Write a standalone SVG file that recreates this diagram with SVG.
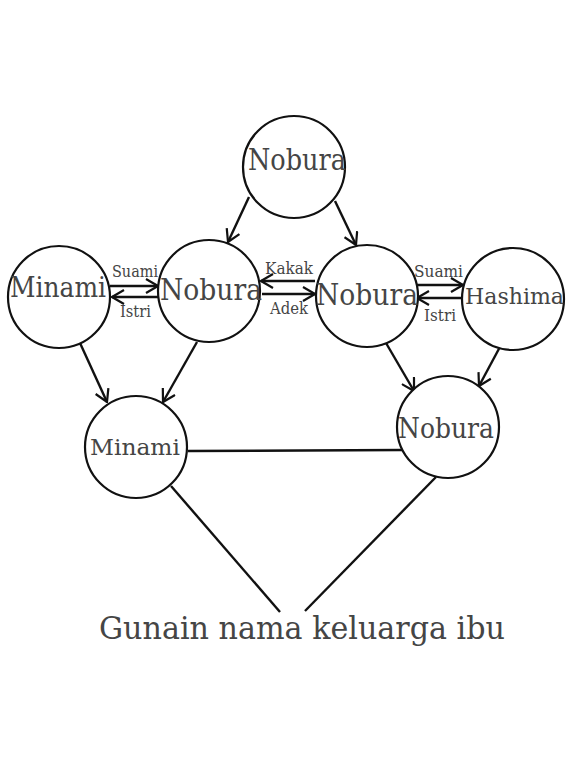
<svg xmlns="http://www.w3.org/2000/svg" width="574" height="765" viewBox="0 0 574 765">
<style>
.n{fill:#fff;stroke:#111;stroke-width:2.2}
.t{font-family:"DejaVu Serif","Liberation Serif",serif;fill:#454545}
.e{stroke:#111;stroke-width:2.4;fill:none}
.a{marker-end:url(#ah)}
</style>
<defs>
<marker id="ah" viewBox="0 0 14 16" refX="13" refY="8" markerWidth="14" markerHeight="16" markerUnits="userSpaceOnUse" orient="auto">
<path d="M1,1 L13,8 L1,15" fill="none" stroke="#111" stroke-width="2.2"/>
</marker>
</defs>
<rect width="574" height="765" fill="#fff"/>
<g id="connectors">
<line class="e a" x1="249" y1="197" x2="228" y2="242"/>
<line class="e a" x1="335" y1="201" x2="356" y2="245"/>
<line class="e a" x1="110" y1="286" x2="158" y2="286"/>
<line class="e a" x1="158" y1="297" x2="112" y2="297"/>
<line class="e a" x1="315" y1="281" x2="261" y2="281"/>
<line class="e a" x1="262" y1="294" x2="315" y2="294"/>
<line class="e a" x1="417" y1="285" x2="463" y2="285"/>
<line class="e a" x1="463" y1="298" x2="417" y2="298"/>
<line class="e a" x1="80" y1="343" x2="107" y2="402"/>
<line class="e a" x1="197" y1="342" x2="163" y2="402"/>
<line class="e a" x1="386" y1="343" x2="414" y2="391"/>
<line class="e a" x1="501" y1="345" x2="479" y2="386"/>
<line class="e" x1="188" y1="451" x2="402" y2="450"/>
<line class="e" x1="171" y1="486" x2="280" y2="612"/>
<line class="e" x1="436" y1="477" x2="305" y2="611"/>
<text class="t" x="112" y="277" font-size="16" textLength="46" lengthAdjust="spacingAndGlyphs">Suami</text>
<text class="t" x="120" y="317" font-size="16" textLength="31" lengthAdjust="spacingAndGlyphs">Istri</text>
<text class="t" x="265" y="274" font-size="16" textLength="48" lengthAdjust="spacingAndGlyphs">Kakak</text>
<text class="t" x="270" y="314" font-size="16" textLength="38" lengthAdjust="spacingAndGlyphs">Adek</text>
<text class="t" x="414" y="277" font-size="16" textLength="49" lengthAdjust="spacingAndGlyphs">Suami</text>
<text class="t" x="424" y="321" font-size="16" textLength="32" lengthAdjust="spacingAndGlyphs">Istri</text>
</g>
<g id="n1"><circle class="n" cx="294" cy="167" r="51"/><text class="t" x="248" y="170" font-size="29" textLength="98" lengthAdjust="spacingAndGlyphs">Nobura</text></g>
<g id="n2"><circle class="n" cx="59" cy="297" r="51"/><text class="t" x="10" y="297" font-size="27" textLength="96" lengthAdjust="spacingAndGlyphs">Minami</text></g>
<g id="n3"><circle class="n" cx="209" cy="291" r="51"/><text class="t" x="160" y="300" font-size="29" textLength="102" lengthAdjust="spacingAndGlyphs">Nobura</text></g>
<g id="n4"><circle class="n" cx="367" cy="296" r="51"/><text class="t" x="316" y="305" font-size="29" textLength="102" lengthAdjust="spacingAndGlyphs">Nobura</text></g>
<g id="n5"><circle class="n" cx="513" cy="299" r="51"/><text class="t" x="465" y="304" font-size="23" textLength="99" lengthAdjust="spacingAndGlyphs">Hashima</text></g>
<g id="n6"><circle class="n" cx="136" cy="447" r="51"/><text class="t" x="90" y="455" font-size="23" textLength="90" lengthAdjust="spacingAndGlyphs">Minami</text></g>
<g id="n7"><circle class="n" cx="448" cy="427" r="51"/><text class="t" x="398" y="438" font-size="27" textLength="96" lengthAdjust="spacingAndGlyphs">Nobura</text></g>
<g id="label"><text class="t" x="99" y="639" font-size="32" textLength="406" lengthAdjust="spacingAndGlyphs">Gunain nama keluarga ibu</text></g>
</svg>
